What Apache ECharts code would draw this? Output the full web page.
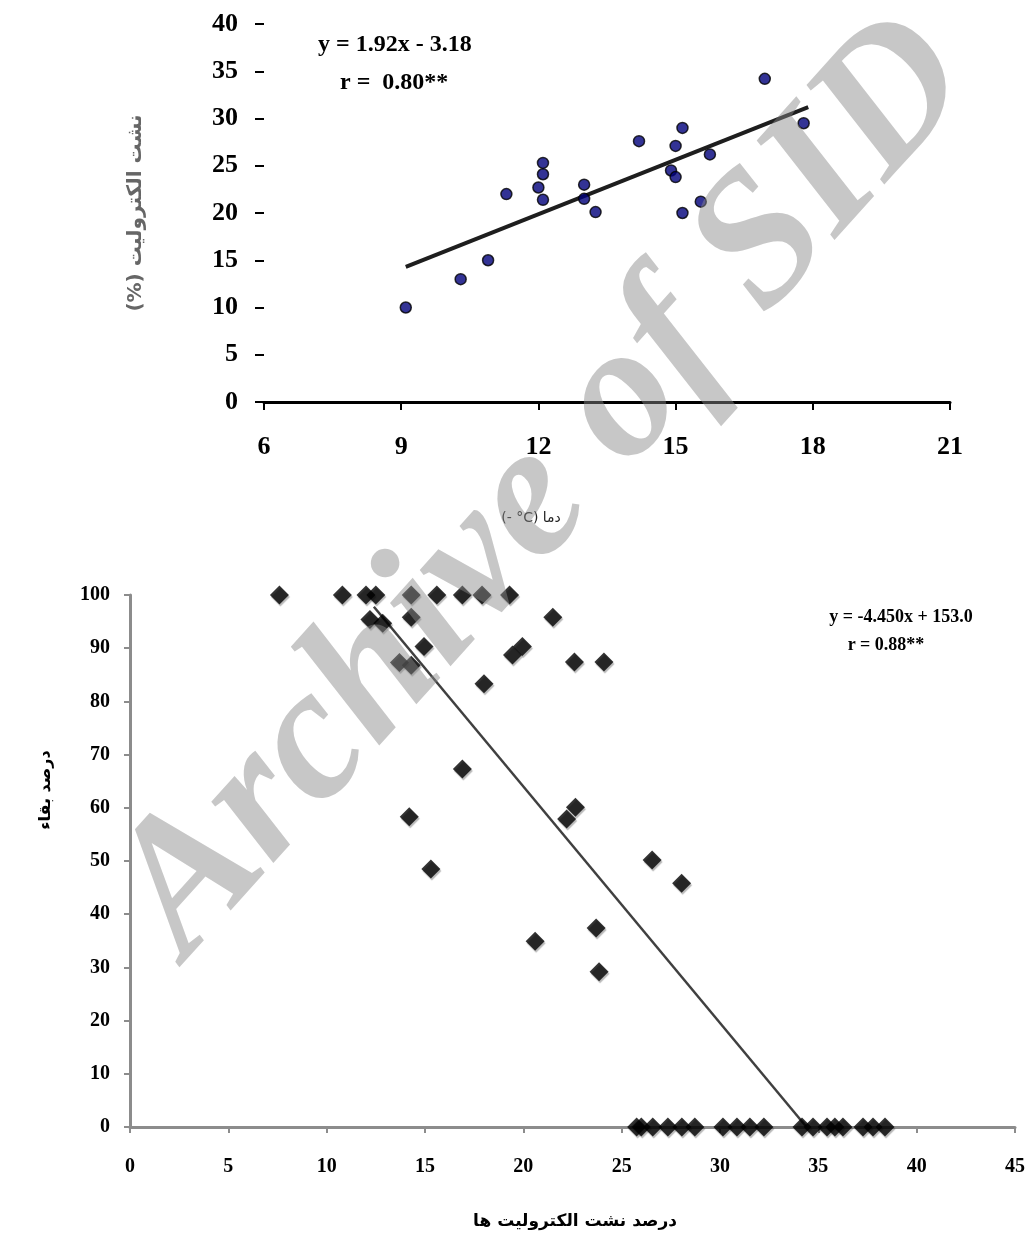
<!DOCTYPE html>
<html>
<head>
<meta charset="utf-8">
<script src="https://cdn.jsdelivr.net/npm/echarts@6/dist/echarts.min.js"></script>
<style>html,body{margin:0;padding:0;background:#fff;}#c{width:1033px;height:1234px;}</style>
</head>
<body>
<div id="c"></div>
<script>
// ---- Top chart: temperature vs electrolyte leakage ----
var topX = [9.1, 10.3, 10.9, 11.3, 12.0, 12.1, 12.1, 12.1, 13.0, 13.0, 13.25, 14.2, 14.9, 15.0, 15.0, 15.15, 15.15, 15.55, 15.75, 16.95, 17.8];
var topY = [10.0, 13.0, 15.0, 22.0, 22.7, 25.3, 24.1, 21.4, 23.0, 21.5, 20.1, 27.6, 24.5, 27.1, 23.8, 29.0, 20.0, 21.2, 26.2, 34.2, 29.5];
var topTrendX = [9.1, 17.9];
var topTrendY = [14.3, 31.2];
var topXTicks = [6, 9, 12, 15, 18, 21];
var topYTicks = [0, 5, 10, 15, 20, 25, 30, 35, 40];

// ---- Bottom chart: electrolyte leakage vs survival ----
var botX = [7.6, 10.8, 12.0, 12.5, 14.3, 15.6, 16.9, 17.9, 19.3,
            12.2, 12.85, 14.3, 21.5,
            14.95, 19.45, 19.95,
            13.7, 14.3, 22.6, 24.1,
            18.0, 16.9, 22.65, 22.2, 14.2, 15.3, 26.55, 28.05,
            20.6, 23.7, 23.85,
            25.76, 26.0, 26.58, 27.35, 28.06, 28.72, 30.15, 30.86, 31.52, 32.23, 34.17, 34.73, 35.44, 35.84, 36.25, 37.27, 37.78, 38.39];
var botY = [100, 100, 100, 100, 100, 100, 100, 100, 100,
            95.4, 94.7, 95.8, 95.8,
            90.3, 88.7, 90.3,
            87.3, 86.8, 87.4, 87.4,
            83.3, 67.3, 60.1, 57.9, 58.3, 48.5, 50.2, 45.8,
            34.9, 37.4, 29.2,
            0, 0, 0, 0, 0, 0, 0, 0, 0, 0, 0, 0, 0, 0, 0, 0, 0, 0];
var botTrendX = [12.4, 34.4];
var botTrendY = [97.8, 0];
var botXTicks = [0, 5, 10, 15, 20, 25, 30, 35, 40, 45];
var botYTicks = [0, 10, 20, 30, 40, 50, 60, 70, 80, 90, 100];

function pairs(xs, ys){ return xs.map(function(x,i){ return [x, ys[i]]; }); }

var serif = 'Liberation Serif';
var chart = echarts.init(document.getElementById('c'));
chart.setOption({
  animation: false,
  backgroundColor: '#fff',
  grid: [
    {left: 264, top: 24, width: 686, height: 378},
    {left: 130, top: 595, width: 885, height: 532}
  ],
  xAxis: [
    {gridIndex: 0, type: 'value', min: topXTicks[0], max: topXTicks[topXTicks.length-1], interval: 3,
     splitLine: {show: false},
     axisLine: {show: true, lineStyle: {color: '#000', width: 3}},
     axisTick: {show: true, inside: false, length: 8, lineStyle: {color: '#000', width: 2}},
     axisLabel: {margin: 32, color: '#000', fontFamily: serif, fontWeight: 'bold', fontSize: 26}},
    {gridIndex: 1, type: 'value', min: botXTicks[0], max: botXTicks[botXTicks.length-1], interval: 5,
     splitLine: {show: false},
     axisLine: {show: true, onZero: false, lineStyle: {color: '#8c8c8c', width: 3}},
     axisTick: {show: true, inside: false, length: 6, lineStyle: {color: '#8c8c8c', width: 2}},
     axisLabel: {margin: 30, color: '#000', fontFamily: serif, fontWeight: 'bold', fontSize: 20}}
  ],
  yAxis: [
    {gridIndex: 0, type: 'value', min: topYTicks[0], max: topYTicks[topYTicks.length-1], interval: 5,
     splitLine: {show: false},
     axisLine: {show: false},
     axisTick: {show: true, inside: false, length: 9, lineStyle: {color: '#000', width: 2}},
     axisLabel: {margin: 26, color: '#000', fontFamily: serif, fontWeight: 'bold', fontSize: 26},
     name: '(%) نشت الکترولیت', nameLocation: 'middle', nameGap: 118, nameRotate: 90,
     nameTextStyle: {color: '#666', fontFamily: 'DejaVu Sans', fontWeight: 'bold', fontSize: 20}},
    {gridIndex: 1, type: 'value', min: botYTicks[0], max: botYTicks[botYTicks.length-1], interval: 10,
     splitLine: {show: false},
     axisLine: {show: true, onZero: false, lineStyle: {color: '#8c8c8c', width: 3}},
     axisTick: {show: true, inside: false, length: 6, lineStyle: {color: '#8c8c8c', width: 2}},
     axisLabel: {margin: 20, color: '#000', fontFamily: serif, fontWeight: 'bold', fontSize: 20}}
  ],
  series: [
    {type: 'line', xAxisIndex: 0, yAxisIndex: 0, data: pairs(topTrendX, topTrendY), symbol: 'none',
     lineStyle: {color: '#1e1e1e', width: 4}, z: 2},
    {type: 'scatter', xAxisIndex: 0, yAxisIndex: 0, data: pairs(topX, topY), symbol: 'circle', symbolSize: 11,
     itemStyle: {color: '#00007a', borderColor: '#000', borderWidth: 1.5}, z: 3},
    {type: 'line', xAxisIndex: 1, yAxisIndex: 1, data: pairs(botTrendX, botTrendY), symbol: 'none',
     lineStyle: {color: '#404040', width: 2.5}, z: 2},
    {type: 'scatter', xAxisIndex: 1, yAxisIndex: 1, data: pairs(botX, botY), symbol: 'diamond', symbolSize: 19,
     itemStyle: {color: '#000', shadowColor: 'rgba(0,0,0,0.35)', shadowOffsetX: 1, shadowOffsetY: 2, shadowBlur: 1}, z: 3}
  ],
  graphic: [
    {type: 'text', left: 318, top: 33, style: {text: 'y = 1.92x - 3.18', fill: '#000', font: 'bold 24px "Liberation Serif"'}},
    {type: 'text', left: 340, top: 71, style: {text: 'r =  0.80**', fill: '#000', font: 'bold 24px "Liberation Serif"'}},
    {type: 'text', x: 531, y: 518, style: {text: '(- °C) دما', fill: '#222', font: '14px "DejaVu Sans"', textAlign: 'center', textVerticalAlign: 'middle'}},
    {type: 'text', x: 901, y: 617, style: {text: 'y = -4.450x + 153.0', fill: '#000', font: 'bold 18px "Liberation Serif"', textAlign: 'center', textVerticalAlign: 'middle'}},
    {type: 'text', x: 886, y: 645, style: {text: 'r = 0.88**', fill: '#000', font: 'bold 18px "Liberation Serif"', textAlign: 'center', textVerticalAlign: 'middle'}},
    {type: 'text', x: 46, y: 790, rotation: Math.PI/2, style: {text: 'درصد بقاء', fill: '#000', font: 'bold 16px "DejaVu Sans"', textAlign: 'center', textVerticalAlign: 'middle'}},
    {type: 'text', x: 575, y: 1222, style: {text: 'درصد نشت الکترولیت ها', fill: '#000', font: 'bold 17px "DejaVu Sans"', textAlign: 'center', textVerticalAlign: 'middle'}},
    {type: 'text', x: 545, y: 488, rotation: 48*Math.PI/180, z: 100, silent: true,
     style: {text: 'Archive of SID', fill: 'rgba(137,137,137,0.47)', font: 'italic bold 190px "Liberation Serif"', textAlign: 'center', textVerticalAlign: 'middle'}}
  ]
});
</script>
</body>
</html>
